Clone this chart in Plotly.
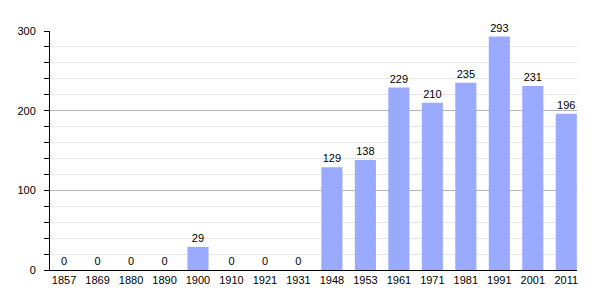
import plotly.graph_objects as go

years = ["1857", "1869", "1880", "1890", "1900", "1910", "1921", "1931",
         "1948", "1953", "1961", "1971", "1981", "1991", "2001", "2011"]
population = [0, 0, 0, 0, 29, 0, 0, 0, 129, 138, 229, 210, 235, 293, 231, 196]
y_ticks = [0, 100, 200, 300]

fig = go.Figure()
fig.add_trace(go.Bar(
    x=years, y=population,
    width=0.63,
    marker=dict(color="#99aaff", line=dict(width=0)),
    text=[str(v) for v in population],
    textposition="outside",
    textfont=dict(family="Liberation Sans, Arial, sans-serif", size=11, color="#000000"),
    cliponaxis=False,
))

fig.update_layout(
    width=605, height=300,
    margin=dict(l=50, r=28, t=31, b=30),
    paper_bgcolor="white", plot_bgcolor="white",
    showlegend=False,
    font=dict(family="Liberation Sans, Arial, sans-serif", size=11, color="#000000"),
)
fig.update_xaxes(
    type="category",
    range=[-0.42, 15.32],
    showline=True, linecolor="#000000", linewidth=1,
    ticks="", showgrid=False,
    tickfont=dict(size=11, color="#000000"),
)
fig.update_yaxes(
    range=[0, 300],
    tickvals=y_ticks,
    ticktext=[str(v) for v in y_ticks],
    showline=True, linecolor="#000000", linewidth=1,
    ticks="outside", ticklen=5, tickcolor="#000000",
    ticklabelstandoff=6,
    showgrid=True, gridcolor="#b4b4b4", gridwidth=1,
    zeroline=False,
    tickfont=dict(size=11, color="#000000"),
    minor=dict(dtick=20, tick0=0, showgrid=True, gridcolor="#e6e6e6", gridwidth=1,
               ticks="outside", ticklen=5, tickcolor="#000000"),
)

fig.write_html("out.html")
